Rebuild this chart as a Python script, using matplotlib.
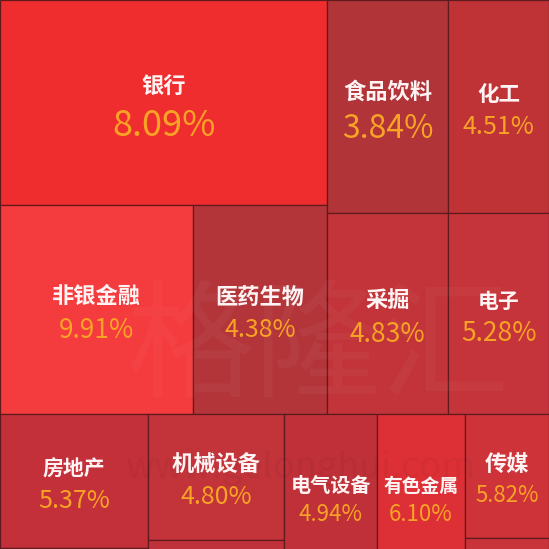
import matplotlib.pyplot as plt
from matplotlib.patches import Rectangle

plt.rcParams['font.family'] = ['Noto Sans CJK SC', 'DejaVu Sans']

# sectors, daily change (%) and block size (relative area)
names = ['银行', '非银金融', '医药生物', '食品饮料', '采掘', '化工', '电子',
         '房地产', '机械设备', '电气设备', '有色金属', '传媒']
changes = [8.09, 9.91, 4.38, 3.84, 4.83, 4.51, 5.28,
           5.37, 4.80, 4.94, 6.10, 5.82]
sizes = [669, 405, 281, 258, 243, 215, 203,
         198, 171, 153, 144, 104]
# unlabeled blocks cut off at the bottom edge
hidden = ['_a', '_b', '_c']
hidden_sizes = [45, 52, 34]

colors = {'银行': '#ef2d2e', '非银金融': '#f43b3e', '医药生物': '#b3353a',
          '食品饮料': '#b03438', '采掘': '#c23439', '化工': '#bf3337',
          '电子': '#c5343a', '房地产': '#c4303a', '机械设备': '#c2333a',
          '电气设备': '#bf3038', '有色金属': '#dd3036', '传媒': '#ce333a',
          '_a': '#c4303a', '_b': '#c03239', '_c': '#c9333a'}
# label / value font sizes (pt)
lab_fs = {'银行': 16, '非银金融': 16, '医药生物': 16, '食品饮料': 16, '采掘': 16,
          '化工': 15.5, '电子': 15, '房地产': 15, '机械设备': 16, '电气设备': 14.5,
          '有色金属': 13.5, '传媒': 16}
val_fs = {'银行': 26, '非银金融': 19, '医药生物': 18, '食品饮料': 23, '采掘': 19,
          '化工': 18, '电子': 19, '房地产': 18, '机械设备': 18, '电气设备': 16,
          '有色金属': 16, '传媒': 16}

weight = dict(zip(names + hidden, sizes + hidden_sizes))

tree = ('rows', [
    ('cols', [('rows', ['银行', ('cols', ['非银金融', '医药生物'])]),
              ('cols', [('rows', ['食品饮料', '采掘']), ('rows', ['化工', '电子'])])]),
    ('cols', [('rows', ['房地产', '_a']), ('rows', ['机械设备', '_b']),
              '电气设备', '有色金属', ('rows', ['传媒', '_c'])]),
])


def total(node):
    if isinstance(node, str):
        return weight[node]
    return sum(total(k) for k in node[1])


def layout(node, x, y, w, h, out):
    if isinstance(node, str):
        out[node] = (x, y, w, h)
        return
    kind, kids = node
    tot = total(node)
    pos = 0.0
    for k in kids:
        f = total(k) / tot
        if kind == 'cols':
            layout(k, x + pos * w, y, f * w, h, out)
        else:
            layout(k, x, y + pos * h, w, f * h, out)
        pos += f


W = 549.0
H = total(tree) * 100 / W
rects = {}
layout(tree, 0, 0, W, H, rects)

fig = plt.figure(figsize=(5.49, 5.49), dpi=100)
ax = fig.add_axes([0, 0, 1, 1])
ax.set_xlim(0, W)
ax.set_ylim(W, 0)
ax.axis('off')

for key, (x, y, w, h) in rects.items():
    ax.add_patch(Rectangle((x, y), w, h, facecolor=colors[key],
                           edgecolor='#5e1a1d', lw=0.9))

# faint watermark
ax.text(318, 352, '格隆汇', fontsize=92, color='white', alpha=0.035,
        ha='center', va='center')
ax.text(300, 468, 'www.gelonghui.com', fontsize=26, color='black', alpha=0.04,
        ha='center', va='center')

for name, ch in zip(names, changes):
    x, y, w, h = rects[name]
    cx, cy = x + w / 2, y + h / 2 + 4
    sep = 0.69 * (lab_fs[name] + val_fs[name]) * 100 / 72
    ax.text(cx, cy - sep / 2, name, fontsize=lab_fs[name], color='#fff3f3',
            ha='center', va='center', fontweight='bold')
    ax.text(cx, cy + sep / 2, f'{ch:.2f}%', fontsize=val_fs[name], color='#f8a325',
            ha='center', va='center')

fig.savefig('out.png', dpi=100)
plt.close(fig)
